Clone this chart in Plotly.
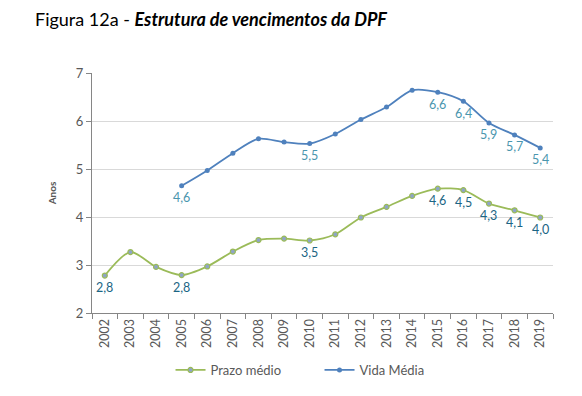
import plotly.graph_objects as go

years = [str(y) for y in range(2002, 2020)]
prazo = [2.78, 3.27, 2.96, 2.79, 2.97, 3.28, 3.52, 3.55, 3.51, 3.64, 3.99, 4.21, 4.44, 4.59, 4.56, 4.28, 4.14, 3.99]
vida = [None, None, None, 4.65, 4.97, 5.33, 5.63, 5.56, 5.53, 5.73, 6.03, 6.29, 6.64, 6.60, 6.41, 5.96, 5.71, 5.44]
prazo_labels = ["2,8", "", "", "2,8", "", "", "", "", "3,5", "", "", "", "", "4,6", "4,5", "4,3", "4,1", "4,0"]
vida_labels = ["", "", "", "4,6", "", "", "", "", "5,5", "", "", "", "", "6,6", "6,4", "5,9", "5,7", "5,4"]

FONT = "Lato"

fig = go.Figure()
fig.add_trace(go.Scatter(
    x=years, y=prazo, name="Prazo médio", mode="lines+markers",
    line=dict(color="#9BBB59", width=1.8, shape="spline", smoothing=0.8),
    marker=dict(size=5, color="#8EA4C8", line=dict(color="#9BBB59", width=1.2)),
))
fig.add_trace(go.Scatter(
    x=years, y=vida, name="Vida Média", mode="lines+markers",
    line=dict(color="#4F81BD", width=1.8, shape="spline", smoothing=0.8),
    marker=dict(size=5, color="#4F81BD"),
))

annotations = []
for ys, labels, color in [(prazo, prazo_labels, "#1B6584"),
                          (vida, vida_labels, "#4A96AE")]:
    for i, (yv, lab) in enumerate(zip(ys, labels)):
        if lab and yv is not None:
            annotations.append(dict(
                x=i, y=yv, xref="x", yref="y", text=lab, showarrow=False,
                yanchor="middle", yshift=-12,
                font=dict(size=12.5, color=color, family=FONT),
            ))

annotations.append(dict(
    text="Figura 12a - <b><i>Estrutura de vencimentos da DPF</i></b>",
    xref="paper", yref="paper", x=(33 - 92) / 461, y=1.0, xanchor="left", yanchor="middle",
    yshift=54, showarrow=False, font=dict(size=18, color="black", family=FONT),
))

fig.update_layout(
    width=582, height=396,
    margin=dict(l=92, r=29, t=73, b=83, autoexpand=False),
    paper_bgcolor="white", plot_bgcolor="white",
    font=dict(family=FONT, color="#595959", size=12),
    showlegend=True,
    legend=dict(orientation="h", xref="container", yref="container",
                x=0.293, xanchor="left", y=1 - 370 / 396, yanchor="middle",
                font=dict(size=13, color="#595959", family=FONT), itemwidth=30,
                entrywidth=104, entrywidthmode="pixels"),
    annotations=annotations,
)
fig.update_xaxes(
    type="category", categoryorder="array", categoryarray=years,
    range=[-0.5, len(years) - 0.5],
    tickangle=-90, tickson="boundaries",
    ticks="outside", ticklen=5, tickcolor="#868686",
    showline=True, linecolor="#868686", linewidth=1,
    showgrid=False, tickfont=dict(size=12.5, color="#595959"),
)
fig.update_yaxes(
    range=[2, 7], dtick=1, ticks="outside", ticklen=5, tickcolor="#868686",
    showline=True, linecolor="#868686", linewidth=1,
    gridcolor="#D9D9D9", gridwidth=1, zeroline=False,
    tickfont=dict(size=13, color="#595959"),
    title=dict(text="<b>Anos</b>", font=dict(size=10, color="#595959"), standoff=17),
)

fig.write_html("out.html", config={"displayModeBar": False},
               post_script="document.body.style.margin='0';")
